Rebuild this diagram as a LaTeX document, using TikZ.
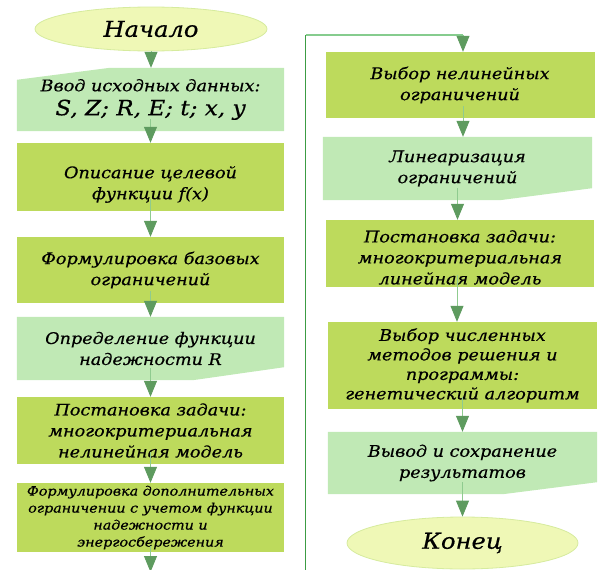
\documentclass[tikz,border=0pt]{standalone}
\usepackage{fontspec}
\setmainfont{DejaVu Serif}[FakeStretch=1.1, FakeBold=0.5]
\usetikzlibrary{arrows.meta,backgrounds,calc,shapes.geometric}
\definecolor{dkbox}{HTML}{BDDA5C}
\definecolor{ltbox}{HTML}{C0E9B5}
\definecolor{ellfill}{HTML}{EFF8B6}
\definecolor{ellline}{HTML}{D6EB9E}
\definecolor{arrline}{HTML}{8FCB8F}
\definecolor{arrhead}{HTML}{5E9B5F}
\definecolor{loopdark}{HTML}{3C9C44}
\definecolor{looplight}{HTML}{86CC8E}
\begin{document}
\begin{tikzpicture}[x=1pt,y=-1pt,
  txt/.style={font=\fontsize{16}{21}\selectfont\itshape, align=center, text=black, inner sep=0pt},
  dkstep/.style={txt, rectangle, fill=dkbox},
  ltstep/.style={txt, rectangle},
  term/.style={ellipse, fill=ellfill, draw=ellline, line width=0.8pt, inner sep=0pt,
    font=\fontsize{22}{26}\selectfont\itshape, text=black},
  arr/.style={draw=arrline, line width=0.8pt, -{Triangle[width=13pt,length=16pt,color=arrhead]}}
]
\useasboundingbox (0,0) rectangle (608,570);
\clip (0,0) rectangle (608,570);

% left column
\node[term, minimum width=232pt, minimum height=44pt] (start) at (151,29) {Начало};
\node[ltstep, minimum width=267pt, minimum height=63pt] (inp) at (150.5,99.5)
  {Ввод исходных данных:\\[3pt]{\fontsize{21}{24}\selectfont S, Z; R, E; t; x, y}};
\node[dkstep, minimum width=267pt, minimum height=68pt] (b1) at (150.5,177) {\rule{0pt}{27pt}Описание целевой\\функции f(x)};
\node[dkstep, minimum width=267pt, minimum height=66pt] (b2) at (150.5,270) {Формулировка базовых\\ограничений};
\node[ltstep, minimum width=267pt, minimum height=63pt] (d1) at (150.5,348.5) {Определение функции\\надежности R};
\node[dkstep, minimum width=267pt, minimum height=67pt] (b3) at (150.5,430.5) {Постановка задачи:\\многокритериальная\\нелинейная модель};
\node[dkstep, minimum width=267pt, minimum height=69pt, font=\fontsize{13}{17}\selectfont\itshape] (b4) at (150.5,517.5)
  {Формулировка дополнительных\\ограничении с учетом функции\\надежности и\\энергосбережения};
\coordinate (b4out) at (150.5,572);

% right column
\node[dkstep, minimum width=269pt, minimum height=66pt] (r1) at (460,85) {Выбор нелинейных\\ограничений};
\node[ltstep, minimum width=269pt, minimum height=63pt] (r2) at (457.5,168.5) {Линеаризация\\ограничений};
\node[dkstep, minimum width=268pt, minimum height=67pt] (r3) at (460,253.5) {\rule{0pt}{20pt}Постановка задачи:\\многокритериальная\\линейная модель};
\node[dkstep, minimum width=269pt, minimum height=87pt, font=\fontsize{16}{19.5}\selectfont\itshape] (r4) at (462.5,365.5) {Выбор численных\\методов решения и\\программы:\\генетический алгоритм};
\node[ltstep, minimum width=269pt, minimum height=62pt] (r5) at (462.5,463) {Вывод и сохранение\\результатов};
\node[term, minimum width=231pt, minimum height=52pt] (end) at (462.5,543) {Конец};

% slanted shapes
\begin{scope}[on background layer]
  \fill[ltbox] (inp.south west) -- (inp.south east) -- (inp.north east) -- ($(inp.north west)+(93,0)$) -- ($(inp.north west)+(0,12)$) -- cycle;
  \fill[ltbox] (d1.north west) -- (d1.north east) -- ($(d1.south east)+(0,-13)$) -- ($(d1.south west)+(176,0)$) -- (d1.south west) -- cycle;
  \fill[ltbox] (r2.north west) -- (r2.north east) -- ($(r2.south east)+(0,-12)$) -- ($(r2.south west)+(177,0)$) -- (r2.south west) -- cycle;
  \fill[ltbox] (r5.north west) -- (r5.north east) -- ($(r5.south east)+(0,-12)$) -- ($(r5.south west)+(175,0)$) -- (r5.south west) -- cycle;
\end{scope}

% connectors
\draw[arr] (start.south) -- (start.south |- inp.north);
\draw[arr] ([yshift=12pt]inp.south) -- (inp.south |- b1.north);
\draw[arr] ([yshift=12pt]b1.south) -- (b1.south |- b2.north);
\draw[arr] ([yshift=12pt]b2.south) -- (b2.south |- d1.north);
\draw[arr] ([yshift=12pt]d1.south) -- (d1.south |- b3.north);
\draw[arr] ([yshift=12pt]b3.south) -- (b3.south |- b4.north);
\draw[arr] ([yshift=6pt]b4.south) -- (b4out);

\draw[arr] ([xshift=3pt,yshift=12pt]r1.south) -- ([xshift=3pt]r1.south |- r2.north);
\draw[arr] ([yshift=12pt]r2.south) -- (r2.south |- r3.north);
\draw[arr] ([xshift=-3pt,yshift=12pt]r3.south) -- ([xshift=-3pt]r3.south |- r4.north);
\draw[arr] ([yshift=12pt]r4.south) -- (r4.south |- r5.north);
\draw[arr] ([yshift=12pt]r5.south) -- (r5.south |- end.north);

% loop connector
\coordinate (lb) at (305.5,575);
\coordinate (lt) at (305.5,35);
\coordinate (lr) at (463,35);
\draw[loopdark, line width=1.2pt] (lb) -- (lt);
\draw[looplight, line width=1.2pt] (lt) -- (lr);
\draw[arr] (lr) -- (lr |- r1.north);
\end{tikzpicture}
\end{document}
